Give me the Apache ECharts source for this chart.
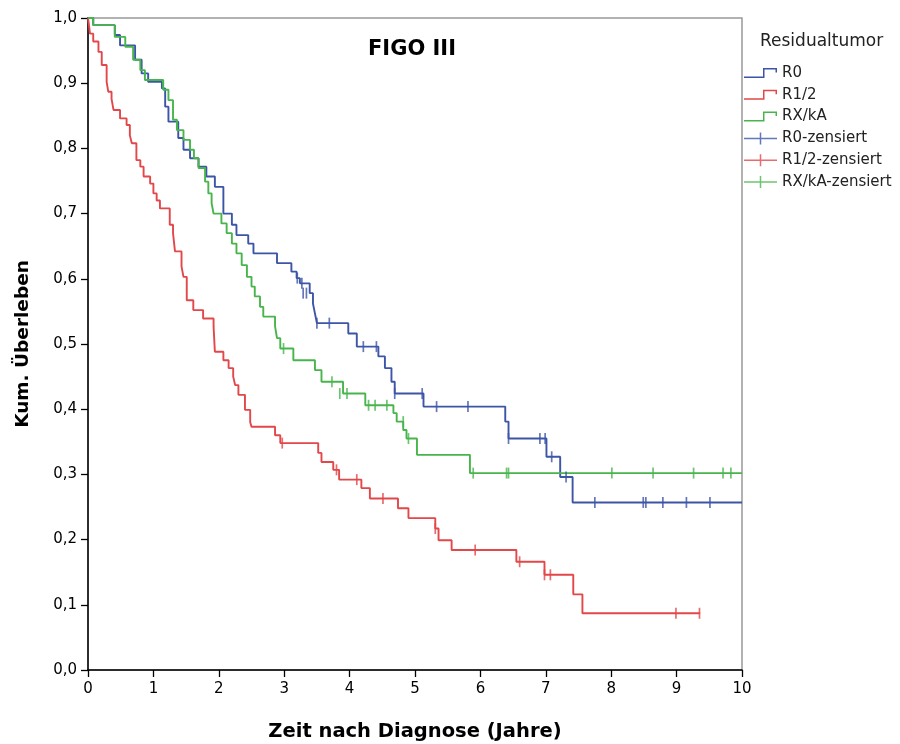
<!DOCTYPE html>
<html>
<head>
<meta charset="utf-8">
<script src="https://cdn.jsdelivr.net/npm/echarts@6/dist/echarts.min.js"></script>
<style>html,body{margin:0;padding:0;background:#fff}#c{width:900px;height:744px}</style>
</head>
<body>
<div id="c"></div>
<script>
// ---- data (time in years, cumulative survival) ----
var seriesNames = ['R0', 'R1/2', 'RX/kA'];
var censorNames = ['R0-zensiert', 'R1/2-zensiert', 'RX/kA-zensiert'];
var xTicks = [0,1,2,3,4,5,6,7,8,9,10];
var yTicks = [0,0.1,0.2,0.3,0.4,0.5,0.6,0.7,0.8,0.9,1.0];

var r0Steps = [[0,1],[0.08,0.989],[0.41,0.974],[0.49,0.958],[0.72,0.936],[0.82,0.915],[0.92,0.902],[1.13,0.892],[1.18,0.864],[1.23,0.841],[1.38,0.816],[1.46,0.798],[1.56,0.785],[1.69,0.772],[1.81,0.757],[1.94,0.741],[2.07,0.700],[2.20,0.683],[2.27,0.667],[2.45,0.654],[2.53,0.639],[2.89,0.624],[3.11,0.611],[3.19,0.601],[3.24,0.593],[3.39,0.578],[3.44,0.562],[3.47,0.547],[3.50,0.532],[3.98,0.516],[4.11,0.496],[4.44,0.481],[4.54,0.463],[4.64,0.442],[4.69,0.424],[5.13,0.404],[6.38,0.381],[6.43,0.355],[7.01,0.327],[7.22,0.296],[7.41,0.257],[10,0.257]];
var r0Censored = [[3.20,0.601],[3.27,0.593],[3.29,0.578],[3.34,0.578],[3.50,0.532],[3.69,0.532],[4.21,0.496],[4.41,0.496],[4.69,0.424],[5.11,0.424],[5.33,0.404],[5.81,0.404],[6.43,0.355],[6.91,0.355],[6.99,0.355],[7.09,0.327],[7.31,0.296],[7.75,0.257],[8.49,0.257],[8.53,0.257],[8.79,0.257],[9.15,0.257],[9.51,0.257]];

var r12Steps = [[0,1],[0.02,0.985],[0.03,0.976],[0.08,0.964],[0.16,0.948],[0.21,0.928],[0.285,0.902],[0.31,0.887],[0.36,0.876],[0.39,0.859],[0.49,0.846],[0.59,0.836],[0.64,0.820],[0.67,0.808],[0.74,0.782],[0.80,0.772],[0.85,0.757],[0.95,0.746],[1.0,0.731],[1.05,0.720],[1.10,0.708],[1.25,0.683],[1.30,0.670],[1.33,0.642],[1.43,0.619],[1.46,0.603],[1.51,0.567],[1.61,0.552],[1.76,0.539],[1.92,0.527],[1.94,0.488],[2.07,0.475],[2.15,0.463],[2.22,0.450],[2.25,0.437],[2.30,0.422],[2.40,0.399],[2.48,0.380],[2.50,0.373],[2.86,0.360],[2.94,0.348],[3.52,0.333],[3.57,0.319],[3.75,0.307],[3.84,0.292],[4.18,0.279],[4.31,0.263],[4.74,0.248],[4.90,0.233],[5.31,0.217],[5.36,0.199],[5.56,0.184],[6.55,0.166],[6.98,0.146],[7.42,0.116],[7.56,0.087],[9.36,0.087]];
var r12Censored = [[2.97,0.348],[3.80,0.307],[4.11,0.292],[4.51,0.263],[5.31,0.217],[5.92,0.184],[6.60,0.166],[6.98,0.146],[7.07,0.146],[8.99,0.087],[9.35,0.087]];

var rxSteps = [[0,1],[0.08,0.989],[0.41,0.971],[0.57,0.956],[0.69,0.936],[0.80,0.920],[0.87,0.905],[1.15,0.890],[1.23,0.874],[1.30,0.844],[1.36,0.828],[1.46,0.813],[1.56,0.798],[1.62,0.785],[1.69,0.770],[1.79,0.749],[1.84,0.731],[1.89,0.716],[1.92,0.700],[2.04,0.685],[2.12,0.670],[2.20,0.654],[2.27,0.639],[2.35,0.621],[2.43,0.603],[2.50,0.588],[2.55,0.573],[2.63,0.557],[2.68,0.542],[2.86,0.527],[2.89,0.509],[2.94,0.493],[3.14,0.475],[3.47,0.460],[3.57,0.442],[3.90,0.424],[4.24,0.406],[4.67,0.394],[4.72,0.381],[4.82,0.368],[4.87,0.355],[5.03,0.330],[5.84,0.302],[10,0.302]];
var rxCensored = [[2.99,0.493],[3.73,0.442],[3.85,0.424],[3.96,0.424],[4.29,0.406],[4.39,0.406],[4.57,0.406],[4.82,0.381],[4.90,0.355],[5.89,0.302],[6.40,0.302],[6.43,0.302],[8.01,0.302],[8.64,0.302],[9.26,0.302],[9.71,0.302],[9.83,0.302]];

// ---- styling ----
var colors = ['#3d55a6', '#e2474a', '#48b54c'];
var FONT = 'DejaVu Sans';
var stepIcon = 'path://M0,10H19V1.5H33V6H31.5V3H20.5V11.5H0Z';
var plusIcon = 'path://M0,5.25H33V6.75H0ZM15.75,0H17.25V12H15.75Z';

var stepData = [r0Steps, r12Steps, rxSteps];
var censData = [r0Censored, r12Censored, rxCensored];

var series = [];
for (var i = 0; i < 3; i++) {
  series.push({
    name: seriesNames[i], type: 'line', step: 'end', data: stepData[i],
    showSymbol: false, symbol: 'none', color: colors[i],
    lineStyle: {color: colors[i], width: 1.9}, z: 2, animation: false
  });
}
for (var j = 0; j < 3; j++) {
  series.push({
    name: censorNames[j], type: 'scatter', data: censData[j],
    symbol: 'rect', symbolSize: [1.7, 11], color: colors[j],
    itemStyle: {color: colors[j]}, z: 3, animation: false
  });
}

var legendData = [];
seriesNames.forEach(function (n) { legendData.push({name: n, icon: stepIcon}); });
censorNames.forEach(function (n) { legendData.push({name: n, icon: plusIcon}); });

var chart = echarts.init(document.getElementById('c'), null, {renderer: 'canvas'});
chart.setOption({
  backgroundColor: '#fff',
  animation: false,
  textStyle: {fontFamily: FONT},
  title: [
    {text: 'FIGO III', left: 363, top: 34, textStyle: {fontFamily: FONT, fontWeight: 'bold', fontSize: 21, color: '#000'}},
    {text: 'Residualtumor', left: 755, top: 28, textStyle: {fontFamily: FONT, fontWeight: 'normal', fontSize: 17, color: '#222'}}
  ],
  legend: {
    orient: 'vertical', left: 744, top: 64, padding: 0,
    itemWidth: 33, itemHeight: 12, itemGap: 3.8,
    data: legendData,
    textStyle: {fontFamily: FONT, fontSize: 15, color: '#222', lineHeight: 18}
  },
  grid: {left: 88, top: 18, right: 158, bottom: 74, show: true, borderColor: '#999', borderWidth: 1.5, backgroundColor: '#fff',
    containLabel: false, outerBoundsMode: 'none'},
  xAxis: {
    type: 'value', min: xTicks[0], max: xTicks[xTicks.length - 1], interval: 1,
    name: 'Zeit nach Diagnose (Jahre)', nameLocation: 'middle', nameGap: 52,
    nameTextStyle: {fontFamily: FONT, fontWeight: 'bold', fontSize: 19.5, color: '#000'},
    axisLine: {lineStyle: {color: '#000', width: 1.5}},
    axisTick: {show: true, length: 7, lineStyle: {color: '#000', width: 1.3}},
    axisLabel: {fontFamily: FONT, fontSize: 15, color: '#000', margin: 12},
    splitLine: {show: false}
  },
  yAxis: {
    type: 'value', min: yTicks[0], max: yTicks[yTicks.length - 1], interval: 0.1,
    name: 'Kum. Überleben', nameLocation: 'middle', nameGap: 55,
    nameTextStyle: {fontFamily: FONT, fontWeight: 'bold', fontSize: 18.5, color: '#000'},
    axisLine: {lineStyle: {color: '#000', width: 1.5}},
    axisTick: {show: true, length: 7, lineStyle: {color: '#000', width: 1.3}},
    axisLabel: {fontFamily: FONT, fontSize: 15, color: '#000', margin: 11,
      formatter: function (v) { return v.toFixed(1).replace('.', ','); }},
    splitLine: {show: false}
  },
  series: series
});
</script>
</body>
</html>
